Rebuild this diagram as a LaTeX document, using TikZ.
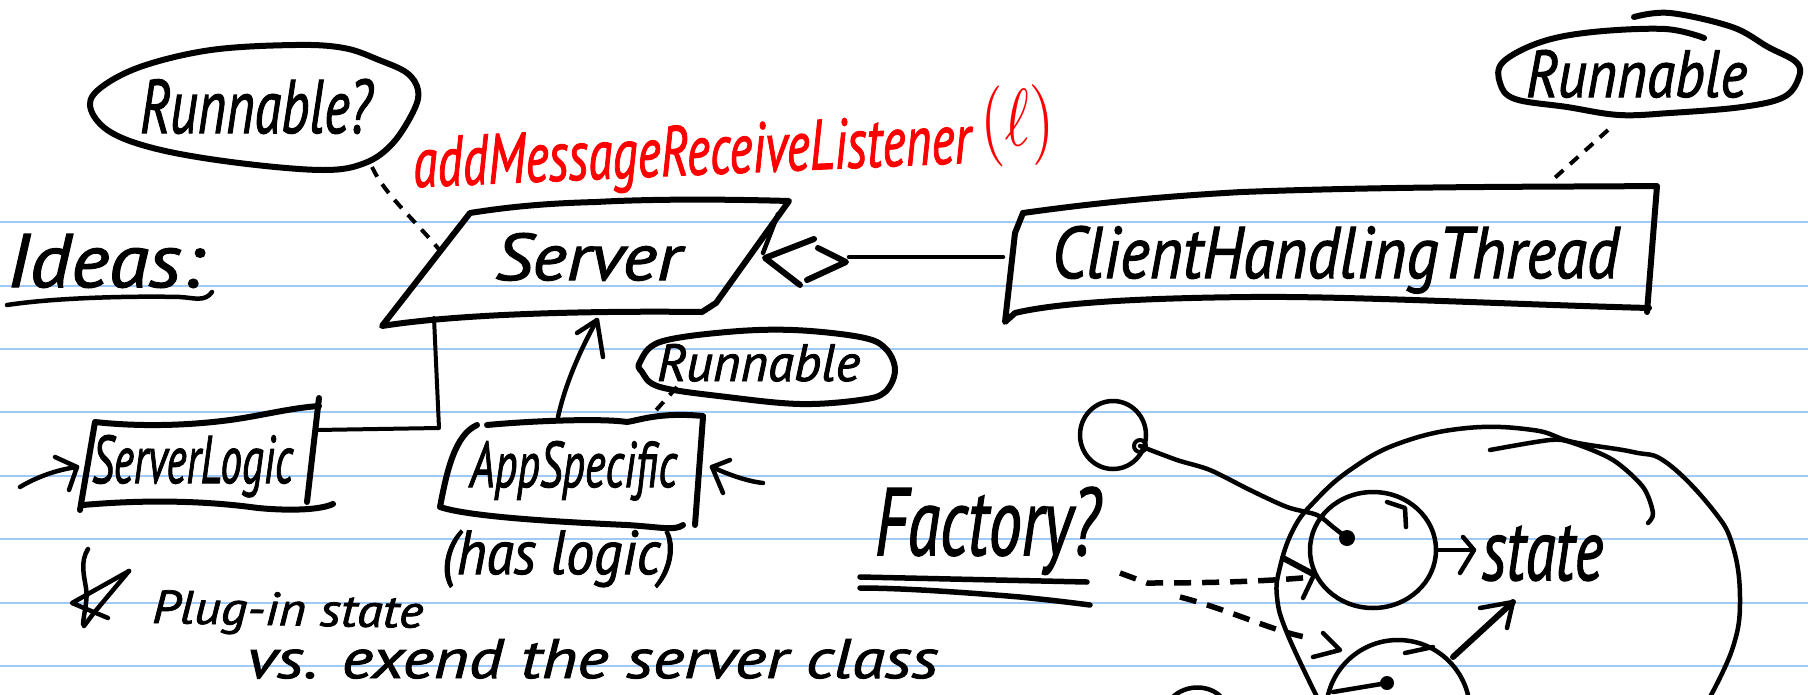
\documentclass[tikz,border=0pt]{standalone}
\usepackage{fontspec}
\setmainfont{PT Sans}
\newfontfamily\handfont{PT Sans}[ItalicFeatures={FakeBold=1.6}]
\usepackage{graphicx}
\usetikzlibrary{arrows.meta}

% fit a piece of handwriting into a given width and height (in pt)
\newcommand{\fitto}[3]{\resizebox{#1pt}{#2pt}{#3}}

\tikzset{
  rule/.style={draw={rgb,255:red,160;green,202;blue,246}, line width=2pt},
  ink/.style={draw=black, line width=4.5pt, line cap=round, line join=round},
  heavy ink/.style={ink, line width=6pt},
  dots/.style={ink, line width=4pt, line cap=butt, dash pattern=on 11pt off 9pt},
  dashes/.style={ink, line width=5.5pt, line cap=butt, dash pattern=on 17pt off 11pt},
  hand/.style={inner sep=0pt, outer sep=0pt, anchor=base west, font=\handfont\itshape},
}

\begin{document}
\begin{tikzpicture}[x=1pt,y=-1pt]
\useasboundingbox (0,0) rectangle (1808,694);
\fill[white] (0,0) rectangle (1808,694);

% ruled paper
\foreach \k in {0,...,7}
  \draw[rule] (0,{222.1+63.4*\k}) -- (1808,{222.1+63.4*\k});

% ---------- heading ----------
\node[hand] (ideas) at (7,287) {\fitto{196}{53}{Ideas:}};
\draw[ink] (7,305) .. controls (60,297) and (140,296) .. (180,297)
  .. controls (195,298) and (205,302) .. (212,292);

% ---------- Runnable? bubble ----------
\draw[heavy ink] plot[smooth cycle, tension=0.6] coordinates {
  (295,45) (211,50) (140,67) (98,90) (91,110) (112,133) (161,150) (239,163)
  (323,170) (365,163) (393,143) (414,110) (418,90) (407,73) (379,60) (344,48)};
\node[hand] (runq) at (140,133) {\fitto{232}{54}{Runnable?}};

% ---------- red method name ----------
\node[hand, text=red, rotate=2.5] (listener) at (414,187)
  {\fitto{558}{50}{addMessageReceiveListener}};
\node[inner sep=0pt, anchor=south west, text=red, rotate=2.5] (lparam) at (982,168)
  {\resizebox*{74pt}{81pt}{\((\ell)\)}};

% ---------- Server ----------
\draw[heavy ink] (470,213) .. controls (520,205) and (560,203) .. (596,202)
  .. controls (650,199) and (720,199) .. (789,201) -- (716,303) -- (702,312)
  .. controls (620,311) and (470,312) .. (382,326) -- cycle;
\draw[ink] (778,214) -- (763,253);
\node[hand] (server) at (495,280) {\fitto{186}{47}{Server}};

\coordinate (runq-s) at (372,167);
\coordinate (server-nw) at (442,253);
\draw[dots] (runq-s) .. controls (385,195) and (415,220) .. (server-nw);

% ---------- ClientHandlingThread ----------
\draw[heavy ink] (1023,213) .. controls (1080,205) and (1150,197) .. (1242,192)
  .. controls (1400,186) and (1550,187) .. (1657,186) -- (1647,312);
\draw[heavy ink] (1649,308) .. controls (1500,304) and (1350,296) .. (1250,297)
  .. controls (1150,298) and (1060,302) .. (1015,313) -- (1005,322)
  -- (1015,233) -- (1023,213);
\node[hand] (cht) at (1052,278) {\fitto{567}{52}{ClientHandlingThread}};

% Runnable bubble above the thread
\draw[heavy ink] plot[smooth, tension=0.6] coordinates {
  (1634,17) (1670,13) (1732,27) (1768,47) (1796,62) (1799,77) (1784,97)
  (1742,107) (1670,113) (1619,115) (1567,107) (1515,99) (1500,83) (1503,62)
  (1541,42) (1593,32) (1665,29) (1704,38)};
\node[hand] (run1) at (1526,97) {\fitto{221}{47}{Runnable}};
\coordinate (run1-s) at (1608,130);
\coordinate (cht-n) at (1549,183);
\draw[dots] (run1-s) -- (cht-n);

% aggregation link Server <> ClientHandlingThread
\draw[heavy ink] (814,239) -- (765,258) -- (800,285);
\draw[heavy ink] (818,248) -- (846,262) -- (807,280);
\coordinate (agg-e) at (849,257);
\coordinate (cht-w) at (1003,257);
\draw[ink] (agg-e) -- (cht-w);

% ---------- ServerLogic ----------
\draw[heavy ink] (80,510) -- (95,422) .. controls (150,428) and (200,424) .. (230,420)
  .. controls (260,416) and (290,408) .. (319,406);
\draw[heavy ink] (319,398) -- (307,502);
\draw[heavy ink] (83,505) .. controls (140,500) and (200,500) .. (258,508)
  .. controls (290,511) and (320,510) .. (333,504);
\node[hand] (slogic) at (92,483) {\fitto{201}{48}{ServerLogic}};

\coordinate (sl-in) at (20,487);
\coordinate (sl-w) at (77,467);
\draw[ink] (sl-in) .. controls (35,478) and (55,470) .. (sl-w);
\draw[ink] (55,457) -- (sl-w) -- (69,490);

\coordinate (server-s) at (434,318);
\coordinate (slogic-e) at (316,430);
\draw[ink, line width=4pt] (server-s) -- (439,428) -- (slogic-e);

% ---------- AppSpecific ----------
\draw[heavy ink] (487,425) .. controls (530,421) and (600,418) .. (627,422)
  .. controls (640,420) and (660,412) .. (703,416);
\draw[heavy ink] (477,425) .. controls (455,435) and (447,470) .. (440,507)
  .. controls (470,517) and (560,522) .. (627,525)
  .. controls (660,527) and (675,531) .. (683,525);
\draw[heavy ink] (703,417) -- (695,525);
\node[hand] (app) at (470,487) {\fitto{207}{46}{AppSpecific}};

\coordinate (app-n) at (558,417);
\coordinate (server-s2) at (597,320);
\draw[ink] (app-n) .. controls (565,385) and (580,350) .. (server-s2);
\draw[ink] (577,333) -- (server-s2) -- (603,357);

\coordinate (app-in) at (763,483);
\coordinate (app-e) at (712,467);
\draw[ink] (app-in) .. controls (745,481) and (725,473) .. (app-e);
\draw[ink] (730,460) -- (app-e) -- (723,493);

% Runnable bubble above AppSpecific
\draw[heavy ink] plot[smooth cycle, tension=0.6] coordinates {
  (640,362) (660,342) (727,332) (793,330) (860,337) (885,348) (895,370)
  (885,392) (860,400) (800,404) (727,397) (660,387) (642,372)};
\node[hand] (run2) at (657,381) {\fitto{203}{37}{Runnable}};
\coordinate (run2-s) at (677,387);
\coordinate (app-ne) at (649,418);
\draw[dots] (run2-s) -- (app-ne);

\node[hand] (haslogic) at (442,574) {\fitto{233}{44}{(has logic)}};

% ---------- notes ----------
\draw[ink] (88,549) .. controls (80,562) and (84,575) .. (86,588) .. controls (88,600) and (84,612) .. (83,624);
\draw[ink] (129,571) -- (72,603) -- (108,618);
\draw[ink] (129,571) -- (93,614) -- (84,626);
\node[hand, rotate=-1] (plugin) at (152,623) {\fitto{271}{33}{Plug-in state}};
\node[hand] (vs) at (247,678) {\fitto{691}{39}{vs. exend the server class}};

\node[hand] (factory) at (875,555) {\fitto{225}{68}{Factory?}};
\draw[ink, line width=5.5pt] (860,577) -- (1087,582);
\draw[ink, line width=5.5pt] (860,588) .. controls (900,588) and (960,592) .. (1020,597)
  .. controls (1050,600) and (1075,603) .. (1090,605);

% ---------- factory / state sketch ----------
\draw[ink] (1113,435) ellipse[x radius=33pt, y radius=34pt];
\coordinate (ring) at (1140,446);
\draw[ink, line width=4pt] (ring) circle[radius=6pt];
\coordinate (c1-dot) at (1347,538);
\draw[ink] plot[smooth] coordinates {(ring) (1177,460) (1210,470) (1250,490)
  (1287,507) (1317,515) (1333,527) (c1-dot)};
\fill (c1-dot) circle[radius=8pt];

% enclosing loop
\draw[ink] plot[smooth, tension=0.7] coordinates {
  (1317,697) (1287,633) (1277,597) (1280,567) (1293,530) (1313,503) (1350,470)
  (1400,443) (1467,428) (1533,430) (1573,442) (1633,452) (1667,463) (1713,510)
  (1733,547) (1740,600) (1733,647) (1710,697)};
\draw[ink] plot[smooth] coordinates {
  (1490,450) (1550,440) (1573,443) (1613,460) (1643,487) (1653,513) (1648,523)};

% first instance
\draw[ink] (1373,550) ellipse[x radius=63pt, y radius=58pt];
\draw[ink] (1387,502) -- (1405,508) -- (1406,527);
\coordinate (c1-e) at (1437,550);
\coordinate (state-w) at (1474,550);
\draw[ink] (c1-e) -- (state-w);
\draw[ink] (1463,537) -- (state-w) -- (1460,573);
\node[hand] (state) at (1482,580) {\fitto{121}{54}{state}};

% second instance
\draw[ink] (1398,712) ellipse[x radius=72pt, y radius=72pt];
\draw[ink] (1405,653) -- (1433,647);
\coordinate (c2-dot) at (1387,683);
\fill (c2-dot) circle[radius=7pt];
\draw[ink] (c2-dot) -- (1333,692);
\coordinate (c2-ne) at (1453,657);
\coordinate (state-sw) at (1513,602);
\draw[heavy ink] (c2-ne) -- (state-sw);
\draw[ink] (1480,608) -- (state-sw) -- (1507,628);

% third instance, just begun
\draw[ink] (1172,698) .. controls (1185,684) and (1210,684) .. (1222,698);

% dashed creation arrows from the factory
\coordinate (f-out1) at (1120,573);
\coordinate (c1-w) at (1313,577);
\draw[dashes] (f-out1) -- (1147,583) .. controls (1200,583) and (1260,582) .. (c1-w);
\draw[ink, line width=6pt] (1283,558) -- (1313,574);
\draw[ink] (1303,598) -- (c1-w);
\coordinate (f-out2) at (1180,597);
\coordinate (c2-w) at (1340,650);
\draw[dashes] (f-out2) .. controls (1230,610) and (1270,630) .. (1305,637);
\draw[ink] (1323,633) -- (c2-w) -- (1313,657);
\end{tikzpicture}
\end{document}
